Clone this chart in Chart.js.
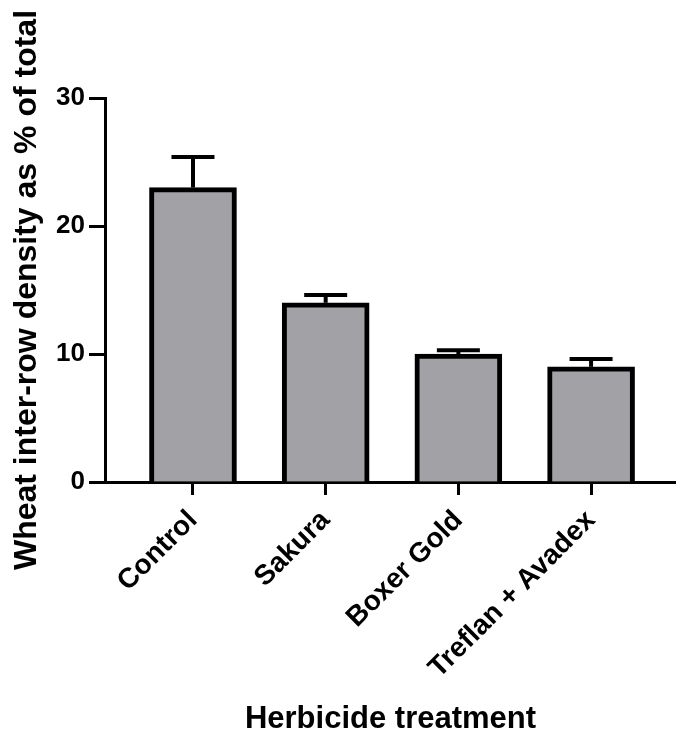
<!DOCTYPE html>
<html>
<head>
<meta charset="utf-8">
<script src="https://cdn.jsdelivr.net/npm/chart.js@4.4.1/dist/chart.umd.min.js"></script>
<style>
  html, body { margin: 0; padding: 0; background: #ffffff; }
  #wrap { width: 676px; height: 738px; position: relative; }
</style>
</head>
<body>
<div id="wrap"><canvas id="c" width="676" height="738"></canvas></div>
<script>
const categories = ['Control', 'Sakura', 'Boxer Gold', 'Treflan + Avadex'];
const means = [23.0, 14.0, 10.0, 9.0];
const errorsUp = [2.4, 0.6, 0.3, 0.6];
const yTicks = [0, 10, 20, 30];
const yTitle = 'Wheat inter-row density as % of total';
const xTitle = 'Herbicide treatment';

const FONT = "'Liberation Sans', Arial, Helvetica, sans-serif";
const positions = categories.map((c, i) => i + 1);

const errorBarPlugin = {
  id: 'errorBars',
  afterDatasetsDraw(chart) {
    const ctx = chart.ctx;
    const xs = chart.scales.x, ys = chart.scales.y;
    ctx.save();
    ctx.strokeStyle = '#000000';
    ctx.lineWidth = 4;
    ctx.lineCap = 'butt';
    positions.forEach((p, i) => {
      const x = xs.getPixelForValue(p);
      const yTop = ys.getPixelForValue(means[i] + errorsUp[i]);
      const yBar = ys.getPixelForValue(means[i]);
      ctx.beginPath();
      ctx.moveTo(x, yBar);
      ctx.lineTo(x, yTop);
      ctx.stroke();
      ctx.beginPath();
      ctx.moveTo(x - 21.5, yTop);
      ctx.lineTo(x + 21.5, yTop);
      ctx.stroke();
    });
    ctx.restore();
  }
};

new Chart(document.getElementById('c'), {
  type: 'bar',
  data: {
    datasets: [{
      data: positions.map((p, i) => ({ x: p, y: means[i] })),
      backgroundColor: '#a2a1a6',
      borderColor: '#000000',
      borderWidth: 5,
      barThickness: 87
    }]
  },
  options: {
    responsive: false,
    animation: false,
    devicePixelRatio: 1,
    layout: { padding: { top: 98, left: 0, right: 0, bottom: 0 } },
    plugins: { legend: { display: false }, tooltip: { enabled: false } },
    scales: {
      x: {
        type: 'linear',
        offset: false,
        min: 0.337,
        max: 4.64,
        afterBuildTicks(axis) { axis.ticks = positions.map(v => ({ value: v })); },
        afterFit(axis) { axis.height = 256; },
        border: { display: true, color: '#000000', width: 3 },
        grid: { offset: false, drawOnChartArea: false, drawTicks: true, tickLength: 13, tickWidth: 3, tickColor: '#000000', color: '#000000' },
        ticks: {
          autoSkip: false,
          minRotation: 45,
          maxRotation: 45,
          padding: 9,
          color: '#000000',
          font: { family: FONT, size: 28, weight: 'bold' },
          callback: (v) => categories[v - 1]
        },
        title: {
          display: true,
          text: xTitle,
          color: '#000000',
          font: { family: FONT, size: 31, weight: 'bold', lineHeight: 1.2 },
          padding: { top: 0, bottom: 0 }
        }
      },
      y: {
        min: 0,
        max: 30,
        afterBuildTicks(axis) { axis.ticks = yTicks.map(v => ({ value: v })); },
        afterFit(axis) { axis.width = 105; },
        border: { display: true, color: '#000000', width: 3 },
        grid: { drawOnChartArea: false, drawTicks: true, tickLength: 16, tickWidth: 3, tickColor: '#000000', color: '#000000' },
        ticks: {
          padding: 4,
          color: '#000000',
          font: { family: FONT, size: 26, weight: 'bold' }
        },
        title: {
          display: true,
          text: yTitle,
          color: '#000000',
          font: { family: FONT, size: 32, weight: 'bold', lineHeight: 1.2 },
          padding: { top: 8, bottom: 0 }
        }
      }
    }
  },
  plugins: [errorBarPlugin]
});
</script>
</body>
</html>
